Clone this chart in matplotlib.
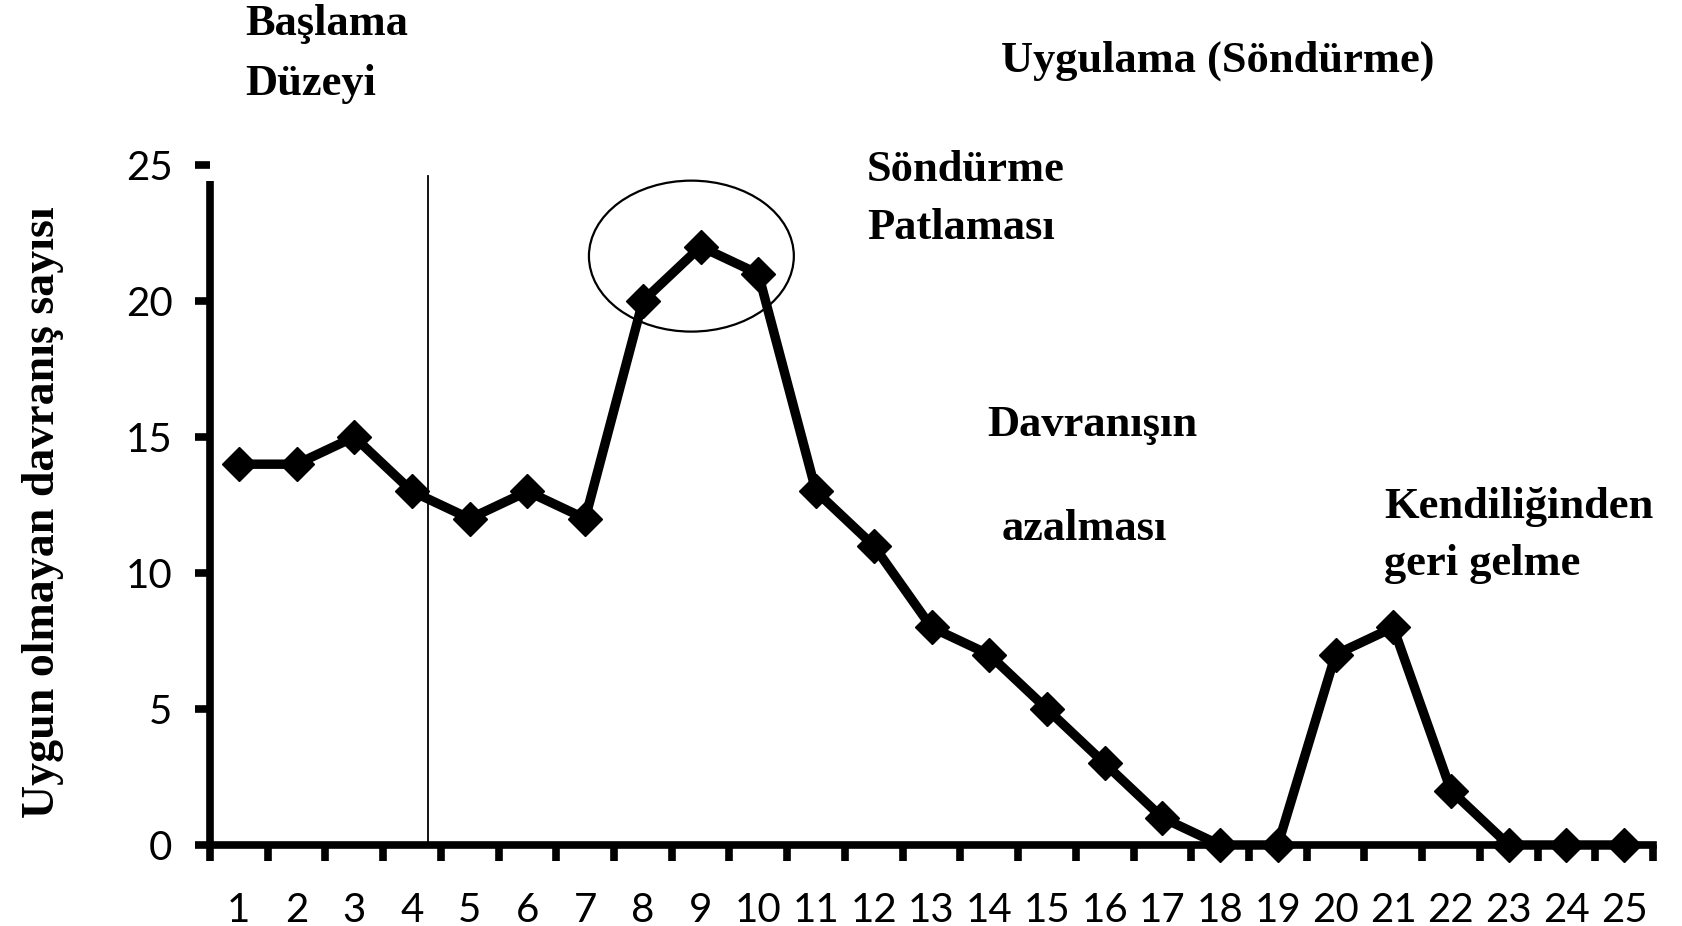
import matplotlib
matplotlib.use("Agg")
import matplotlib.pyplot as plt
from matplotlib.patches import Ellipse

# ------ data ------
sessions = list(range(1, 26))
counts = [14, 14, 15, 13, 12, 13, 12, 20, 22, 21, 13, 11, 8, 7, 5, 3, 1,
          0, 0, 7, 8, 2, 0, 0, 0]
y_ticks = [0, 5, 10, 15, 20, 25]
phase_split = 4.27  # baseline / treatment boundary

W, H = 1682, 926
serif = "Liberation Serif"

fig = plt.figure(figsize=(W / 100, H / 100), dpi=100, facecolor="white")
ax = fig.add_axes([210 / W, 1 - 845 / H, 1443 / W, 680 / H])

ax.plot(sessions, counts, color="black", linewidth=6.8, marker="D",
        markersize=17, clip_on=False, zorder=3)

# baseline boundary
ax.plot([phase_split, phase_split], [0, 24.6], color="black", linewidth=1.3,
        zorder=2)

# circle around extinction burst
ax.add_patch(Ellipse((8.84, 21.65), 3.55, 5.55, fill=False,
                     edgecolor="black", linewidth=1.6, zorder=4))

ax.set_xlim(0.5, 25.5)
ax.set_ylim(0, 25)

# category labels at centers, tick marks at the boundaries
ax.set_xticks(sessions)
ax.set_xticklabels([str(s) for s in sessions])
ax.set_xticks([s + 0.5 for s in range(0, 26)], minor=True)
ax.tick_params(axis="x", which="major", length=0, pad=34, labelsize=29)
ax.tick_params(axis="x", which="minor", length=11.5, width=5.5,
               direction="out")
ax.set_yticks(y_ticks)
ax.tick_params(axis="y", length=11, width=5.5, pad=16, labelsize=29)
for lab in ax.get_xticklabels() + ax.get_yticklabels():
    lab.set_family("Lato")

for s in ["top", "right"]:
    ax.spines[s].set_visible(False)
ax.spines["left"].set_linewidth(5.5)
ax.spines["bottom"].set_linewidth(5.5)
ax.spines["left"].set_bounds(0, 24.4)
ax.spines["left"].set_capstyle("butt")

ax.set_ylabel("Uygun olmayan davranış sayısı", family=serif,
              fontweight="bold", fontsize=33)
ax.yaxis.set_label_coords(-0.101, 0.49)


def note(x, y, s):
    fig.text(x / W, 1 - y / H, s, family=serif, fontweight="bold",
             fontsize=32, ha="left", va="center")


note(245, 24, "Başlama")
note(245, 84, "Düzeyi")
note(1001, 61, "Uygulama (Söndürme)")
note(867, 170, "Söndürme")
note(867, 228, "Patlaması")
note(987, 425, "Davranışın")
note(1002, 529, "azalması")
note(1384, 507, "Kendiliğinden")
note(1384, 564, "geri gelme")

plt.savefig("out.png", dpi=100, facecolor="white")
